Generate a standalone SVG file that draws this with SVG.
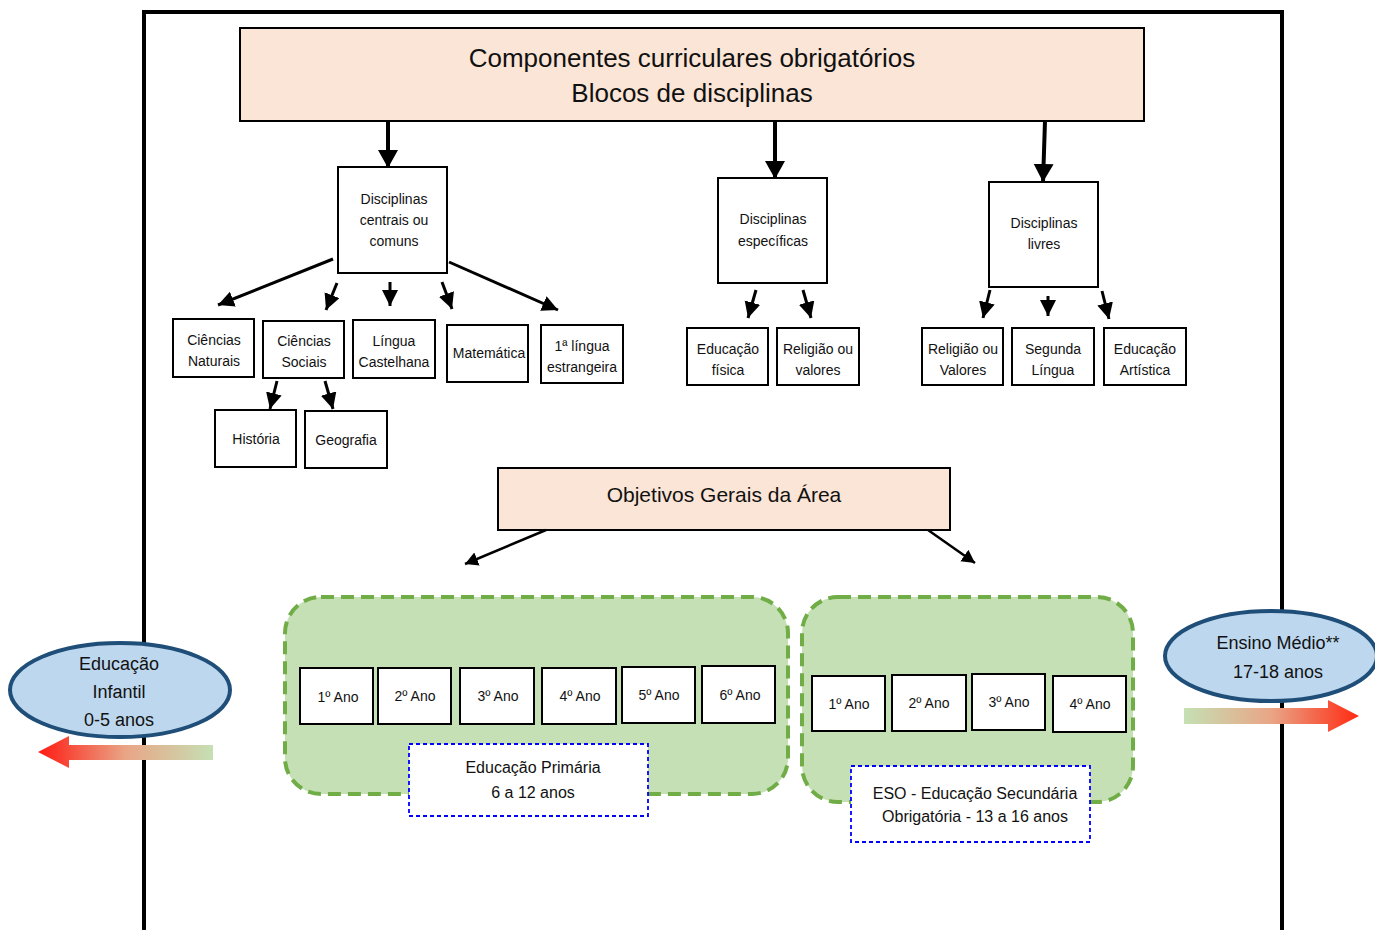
<svg xmlns="http://www.w3.org/2000/svg" width="1375" height="930" viewBox="0 0 1375 930">
<style>
text{font-family:"Liberation Sans",Arial,sans-serif;fill:#111;text-anchor:middle}
.box{fill:#fff;stroke:#000;stroke-width:2}
.peach{fill:#fbe5d6;stroke:#000;stroke-width:2}
.t14{font-size:14px}
.ano{font-size:14px}
.green{fill:#c5e0b4;stroke:#70ad47;stroke-width:4;stroke-dasharray:13 7}
.blue{fill:#fff;stroke:#0000ff;stroke-width:1.8;stroke-dasharray:4 3}
.ell{fill:#bdd7ee;stroke:#1f4e79;stroke-width:4}
.a4{stroke:#000;stroke-width:4;fill:none;marker-end:url(#hBig)}
.a3{stroke:#000;stroke-width:3;fill:none;marker-end:url(#hMid)}
.a2{stroke:#000;stroke-width:2.5;fill:none;marker-end:url(#hSm)}
</style>
<defs>
<marker id="hBig" markerUnits="userSpaceOnUse" markerWidth="22" markerHeight="22" refX="18" refY="10" orient="auto"><path d="M0,0 L18,10 L0,20 Z" fill="#000"/></marker>
<marker id="hMid" markerUnits="userSpaceOnUse" markerWidth="18" markerHeight="18" refX="16" refY="8" orient="auto"><path d="M0,0 L16,8 L0,16 Z" fill="#000"/></marker>
<marker id="hSm" markerUnits="userSpaceOnUse" markerWidth="16" markerHeight="16" refX="13" refY="7" orient="auto"><path d="M0,0 L13,7 L0,14 Z" fill="#000"/></marker>
<linearGradient id="gL" x1="0" y1="0" x2="1" y2="0"><stop offset="0" stop-color="#ff1a12"/><stop offset="0.5" stop-color="#e9a586"/><stop offset="1" stop-color="#c5e0b4"/></linearGradient>
<linearGradient id="gR" x1="0" y1="0" x2="1" y2="0"><stop offset="0" stop-color="#c5e0b4"/><stop offset="0.5" stop-color="#e9a586"/><stop offset="1" stop-color="#ff2a12"/></linearGradient>
</defs>

<g id="frame" stroke="#000" stroke-width="4" fill="none">
<path d="M144,930 L144,12 L1282,12 L1282,930"/>
</g>

<g id="title"><rect class="peach" x="240" y="28" width="904" height="93"/>
<text x="692" y="67" font-size="26">Componentes curriculares obrigatórios</text>
<text x="692" y="102" font-size="26">Blocos de disciplinas</text></g>

<g id="centrais"><rect class="box" x="338" y="167" width="109" height="106"/>
<text class="t14" x="394" y="204">Disciplinas</text><text class="t14" x="394" y="225">centrais ou</text><text class="t14" x="394" y="246">comuns</text></g>
<g id="especificas"><rect class="box" x="718" y="178" width="109" height="105"/>
<text class="t14" x="773" y="224">Disciplinas</text><text class="t14" x="773" y="246">específicas</text></g>
<g id="livres"><rect class="box" x="989" y="182" width="109" height="105"/>
<text class="t14" x="1044" y="228">Disciplinas</text><text class="t14" x="1044" y="249">livres</text></g>

<g id="cnat"><rect class="box" x="173" y="319" width="81" height="58"/><text class="t14" x="214" y="345">Ciências</text><text class="t14" x="214" y="366">Naturais</text></g>
<g id="csoc"><rect class="box" x="263" y="321" width="81" height="57"/><text class="t14" x="304" y="346">Ciências</text><text class="t14" x="304" y="367">Sociais</text></g>
<g id="lcast"><rect class="box" x="353" y="320" width="82" height="58"/><text class="t14" x="394" y="346">Língua</text><text class="t14" x="394" y="367">Castelhana</text></g>
<g id="mat"><rect class="box" x="447" y="325" width="81" height="57"/><text class="t14" x="489" y="358">Matemática</text></g>
<g id="lest"><rect class="box" x="541" y="325" width="82" height="58"/><text class="t14" x="582" y="351">1ª língua</text><text class="t14" x="582" y="372">estrangeira</text></g>
<g id="hist"><rect class="box" x="215" y="410" width="81" height="57"/><text class="t14" x="256" y="444">História</text></g>
<g id="geo"><rect class="box" x="305" y="411" width="82" height="57"/><text class="t14" x="346" y="445">Geografia</text></g>
<g id="edfis"><rect class="box" x="687" y="328" width="81" height="57"/><text class="t14" x="728" y="354">Educação</text><text class="t14" x="728" y="375">física</text></g>
<g id="relval1"><rect class="box" x="777" y="328" width="82" height="57"/><text class="t14" x="818" y="354">Religião ou</text><text class="t14" x="818" y="375">valores</text></g>
<g id="relval2"><rect class="box" x="922" y="328" width="81" height="57"/><text class="t14" x="963" y="354">Religião ou</text><text class="t14" x="963" y="375">Valores</text></g>
<g id="seg"><rect class="box" x="1012" y="328" width="82" height="57"/><text class="t14" x="1053" y="354">Segunda</text><text class="t14" x="1053" y="375">Língua</text></g>
<g id="edart"><rect class="box" x="1104" y="328" width="82" height="57"/><text class="t14" x="1145" y="354">Educação</text><text class="t14" x="1145" y="375">Artística</text></g>

<g id="objetivos"><rect class="peach" x="498" y="468" width="452" height="62"/><text x="724" y="502" font-size="21">Objetivos Gerais da Área</text></g>

<g id="primaria">
<rect class="green" x="285" y="597" width="503" height="197" rx="36"/>
<rect class="box" x="300" y="668" width="73" height="56"/><text class="ano" x="338" y="702">1º Ano</text>
<rect class="box" x="378" y="668" width="73" height="56"/><text class="ano" x="415" y="701">2º Ano</text>
<rect class="box" x="460" y="668" width="74" height="56"/><text class="ano" x="498" y="701">3º Ano</text>
<rect class="box" x="542" y="668" width="74" height="56"/><text class="ano" x="580" y="701">4º Ano</text>
<rect class="box" x="622" y="667" width="73" height="56"/><text class="ano" x="659" y="700">5º Ano</text>
<rect class="box" x="702" y="666" width="73" height="57"/><text class="ano" x="740" y="700">6º Ano</text>
<rect class="blue" x="409" y="744" width="239" height="72"/>
<text x="533" y="773" font-size="16">Educação Primária</text><text x="533" y="798" font-size="16">6 a 12 anos</text>
</g>

<g id="eso">
<rect class="green" x="802" y="597" width="331" height="205" rx="36"/>
<rect class="box" x="812" y="676" width="73" height="55"/><text class="ano" x="849" y="709">1º Ano</text>
<rect class="box" x="892" y="675" width="74" height="56"/><text class="ano" x="929" y="708">2º Ano</text>
<rect class="box" x="972" y="674" width="73" height="56"/><text class="ano" x="1009" y="707">3º Ano</text>
<rect class="box" x="1053" y="676" width="73" height="56"/><text class="ano" x="1090" y="709">4º Ano</text>
<rect class="blue" x="851" y="766" width="239" height="76"/>
<text x="975" y="799" font-size="16">ESO - Educação Secundária</text><text x="975" y="822" font-size="16">Obrigatória - 13 a 16 anos</text>
</g>

<g id="infantil">
<ellipse class="ell" cx="120" cy="690" rx="110" ry="47"/>
<text x="119" y="670" font-size="18">Educação</text><text x="119" y="698" font-size="18">Infantil</text><text x="119" y="726" font-size="18">0-5 anos</text>
<path d="M38,752 L69,736 L69,745 L213,745 L213,760 L69,760 L69,768 Z" fill="url(#gL)"/>
</g>

<g id="medio">
<ellipse class="ell" cx="1271" cy="656" rx="106" ry="45"/>
<text x="1278" y="649" font-size="18">Ensino Médio**</text><text x="1278" y="678" font-size="18">17-18 anos</text>
<path d="M1184,708 L1328,708 L1328,700 L1359,716 L1328,732 L1328,724 L1184,724 Z" fill="url(#gR)"/>
</g>

<g id="connectors">
<line class="a4" x1="388" y1="121" x2="388" y2="168"/>
<line class="a4" x1="775" y1="121" x2="775" y2="179"/>
<line class="a4" x1="1045" y1="121" x2="1043" y2="182"/>
<line class="a3" x1="333" y1="259" x2="218" y2="305"/>
<line class="a3" x1="337" y1="283" x2="326" y2="310"/>
<line class="a3" x1="390" y1="282" x2="390" y2="306"/>
<line class="a3" x1="442" y1="282" x2="452" y2="309"/>
<line class="a3" x1="449" y1="262" x2="558" y2="310"/>
<line class="a3" x1="277" y1="381" x2="270" y2="409"/>
<line class="a3" x1="325" y1="381" x2="333" y2="409"/>
<line class="a3" x1="756" y1="290" x2="748" y2="318"/>
<line class="a3" x1="803" y1="290" x2="811" y2="318"/>
<line class="a3" x1="990" y1="290" x2="983" y2="318"/>
<line class="a3" x1="1048" y1="296" x2="1048" y2="316"/>
<line class="a3" x1="1102" y1="291" x2="1109" y2="319"/>
<line class="a2" x1="546" y1="530" x2="465" y2="564"/>
<line class="a2" x1="928" y1="530" x2="975" y2="563"/>
</g>
</svg>
